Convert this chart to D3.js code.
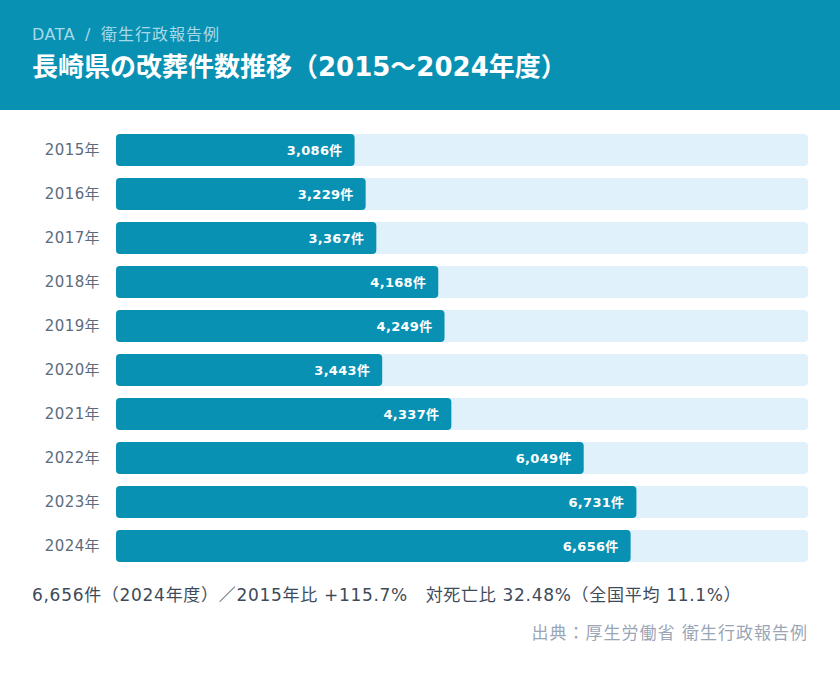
<!DOCTYPE html>
<html>
<head>
<meta charset="utf-8">
<script src="https://cdn.jsdelivr.net/npm/d3@7"></script>
<style>
  body { margin: 0; background: #fff; font-family: "DejaVu Sans", "Noto Sans CJK JP", sans-serif; }
</style>
</head>
<body>
<div id="chart"></div>
<script>
const years = ["2015年", "2016年", "2017年", "2018年", "2019年", "2020年", "2021年", "2022年", "2023年", "2024年"];
const counts = [3086, 3229, 3367, 4168, 4249, 3443, 4337, 6049, 6731, 6656];
const subtitleParts = ["DATA", "/", "衛生行政報告例"];
const title = "長崎県の改葬件数推移（2015〜2024年度）";
const summary = "6,656件（2024年度）／2015年比 +115.7%　対死亡比 32.48%（全国平均 11.1%）";
const source = "出典：厚生労働省 衛生行政報告例";

const width = 840, height = 676;
const fmt = d3.format(",");

const svg = d3.select("#chart").append("svg")
    .attr("width", width)
    .attr("height", height);

// header band
svg.append("rect")
    .attr("width", width)
    .attr("height", 110)
    .attr("fill", "#0991b4");

// subtitle: three pieces, spaced like the original
const subX = [32, 85, 101];
svg.selectAll("text.sub")
    .data(subtitleParts)
    .enter().append("text")
    .attr("class", "sub")
    .attr("x", (d, i) => subX[i])
    .attr("y", 40)
    .attr("fill", "#a6dae8")
    .style("font-size", "16px")
    .style("letter-spacing", (d, i) => i === 0 ? "0.5px" : i === 2 ? "1px" : "0px")
    .text(d => d);

svg.append("text")
    .attr("x", 32).attr("y", 76)
    .attr("fill", "#fff")
    .style("font-size", "26px")
    .style("font-weight", "bold")
    .text(title);

const x = d3.scaleLinear()
    .domain([0, 8950])
    .range([116, 808]);

const y = d3.scaleBand()
    .domain(years)
    .range([128, 568])
    .paddingInner(0.2727)
    .paddingOuter(0.1364);

const rows = svg.selectAll("g.row")
    .data(years.map((yr, i) => ({ year: yr, value: counts[i] })))
    .enter().append("g")
    .attr("class", "row");

// track
rows.append("rect")
    .attr("x", x(0))
    .attr("y", d => y(d.year))
    .attr("width", x.range()[1] - x(0))
    .attr("height", y.bandwidth())
    .attr("rx", 4)
    .attr("fill", "#e0f1fc");

rows.append("rect")
    .attr("x", x(0))
    .attr("y", d => y(d.year))
    .attr("width", d => x(d.value) - x(0))
    .attr("height", y.bandwidth())
    .attr("rx", 4)
    .attr("fill", "#0991b4");

rows.append("text")
    .attr("x", d => x(d.value) - 12)
    .attr("y", d => y(d.year) + y.bandwidth() / 2)
    .attr("dy", "0.36em")
    .attr("text-anchor", "end")
    .attr("fill", "#fff")
    .style("font-size", "13px")
    .style("font-weight", "bold")
    .style("letter-spacing", "0.3px")
    .text(d => fmt(d.value) + "件");

rows.append("text")
    .attr("x", 100)
    .attr("y", d => y(d.year) + y.bandwidth() / 2)
    .attr("dy", "0.36em")
    .attr("text-anchor", "end")
    .attr("fill", "#5d6b7c")
    .style("font-size", "15px")
    .style("letter-spacing", "0.4px")
    .text(d => d.year);

// summary line; the fullwidth slash is set in the CJK font explicitly
const sum = svg.append("text")
    .attr("x", 32).attr("y", 601)
    .attr("fill", "#3e4a59")
    .style("font-size", "17px")
    .style("letter-spacing", "0.7px");
summary.split("／").forEach((part, i) => {
    if (i > 0) {
        sum.append("tspan")
            .style("font-family", "'Noto Sans CJK JP'")
            .attr("fill", "#3e4a59")
            .text("／");
    }
    sum.append("tspan").text(part);
});

svg.append("text")
    .attr("x", 808).attr("y", 639)
    .attr("text-anchor", "end")
    .attr("fill", "#9aa6b6")
    .style("font-size", "17px")
    .style("letter-spacing", "1px")
    .text(source);
</script>
</body>
</html>
